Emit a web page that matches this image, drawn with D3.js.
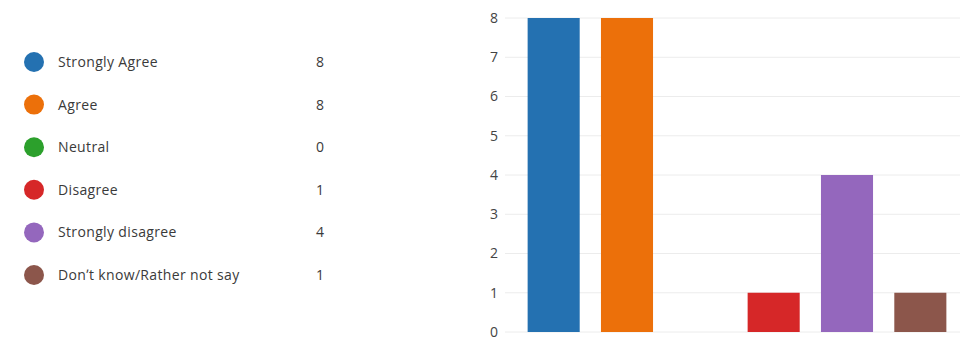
<!DOCTYPE html>
<html><head><meta charset="utf-8">
<script src="https://cdn.jsdelivr.net/npm/d3@7"></script>
<style>body{margin:0;background:#fff;}svg{display:block;}</style>
</head><body>
<svg id="c" width="964" height="344"></svg>
<script>
const categories = ["Strongly Agree","Agree","Neutral","Disagree","Strongly disagree","Don't know/Rather not say"];
const legendLabels = ["Strongly Agree","Agree","Neutral","Disagree","Strongly disagree","Don\u02bct know/Rather not say"];
const values = [8,8,0,1,4,1];
const colors = ["#2471b1","#ec700a","#2ca02c","#d62728","#9467bd","#8c564b"];
const yTicks = [0,1,2,3,4,5,6,7,8];

const svg = d3.select("#c");
const font = "'Open Sans', 'Noto Sans', sans-serif";

// Legend
const ly = d3.scalePoint().domain(categories).range([62,275]);
const lg = svg.append("g");
categories.forEach((c,i)=>{
  const y = ly(c);
  lg.append("circle").attr("cx",34).attr("cy",y).attr("r",10).attr("fill",colors[i]);
  lg.append("text").attr("x",58).attr("y",y).attr("dy","0.35em")
    .attr("font-family",font).attr("font-size",14).attr("letter-spacing",0.35).attr("fill","#3a3a3a").text(legendLabels[i]);
  lg.append("text").attr("x",320).attr("y",y).attr("dy","0.35em").attr("text-anchor","middle")
    .attr("font-family",font).attr("font-size",14).attr("fill","#3a3a3a").text(values[i]);
});

// Chart
const x = d3.scaleBand().domain(categories).range([517,957]).paddingInner(0.29).paddingOuter(0.145);
const y = d3.scaleLinear().domain([0,8]).range([332,18]);

const grid = svg.append("g");
grid.selectAll("line").data(yTicks).join("line")
  .attr("x1",505).attr("x2",960)
  .attr("y1",d=>y(d)).attr("y2",d=>y(d))
  .attr("stroke","#ececec").attr("stroke-width",1);

const yAxis = svg.append("g").attr("transform","translate(505,0)")
  .call(d3.axisLeft(y).tickValues(yTicks).tickSize(0).tickPadding(7));
yAxis.select(".domain").remove();
yAxis.selectAll("text").attr("font-family",font).attr("font-size",14).attr("fill","#444");

svg.append("g").selectAll("rect").data(values).join("rect")
  .attr("x",(d,i)=>x(categories[i]))
  .attr("width",x.bandwidth())
  .attr("y",d=>y(d))
  .attr("height",d=>y(0)-y(d))
  .attr("fill",(d,i)=>colors[i]);
</script>
</body></html>
